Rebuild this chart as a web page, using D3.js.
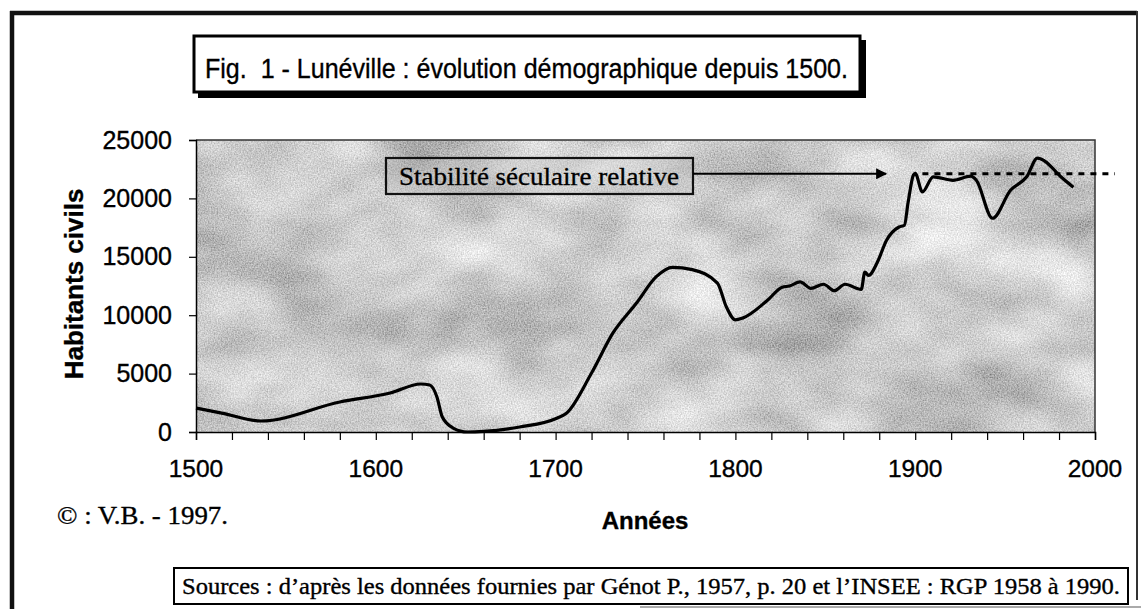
<!DOCTYPE html>
<html>
<head>
<meta charset="utf-8">
<script src="https://cdn.jsdelivr.net/npm/d3@7"></script>
<style>
  html, body { margin: 0; padding: 0; background: #fff; }
  svg { display: block; }
  text { stroke: #000; stroke-width: 0.35px; fill: #000; }
</style>
</head>
<body>
<div id="chart"></div>
<script>
// Population of Lunéville (habitants civils)
const years = [1500, 1515, 1536, 1580, 1608, 1625, 1630, 1634, 1637, 1643, 1651, 1660, 1680,
  1701, 1706, 1720, 1732, 1745, 1756, 1765, 1776, 1790, 1795, 1800, 1804, 1818, 1826, 1830, 1836,
  1842, 1849, 1855, 1861, 1870, 1872, 1874, 1879, 1884, 1891, 1894, 1896, 1899, 1900,
  1904, 1910, 1921, 1931, 1934, 1943, 1953, 1962, 1968, 1972, 1981, 1988];
const population = [2050, 1600, 940, 2570, 3340, 4110, 4020, 3000, 1280, 340, 0, 50, 430,
  1200, 1600, 5050, 8500, 11040, 13300, 14100, 13900, 12750, 10700, 9600, 9750, 11300, 12400, 12500, 12850,
  12300, 12650, 12100, 12650, 12200, 13700, 13400, 14550, 16400, 17550, 17700, 19600, 22000, 22150,
  20550, 21850, 21550, 21900, 21550, 18300, 20700, 21850, 23450, 23200, 21850, 20950];

const xTicks = [1500, 1600, 1700, 1800, 1900, 2000];
const xMinorTicks = d3.range(1500, 2001, 20);
const yTicks = [0, 5000, 10000, 15000, 20000, 25000];
const stableLevel = 22100;       // "stabilité séculaire relative" dashed level
const stableFrom = 1904;

const titleText = "Fig.  1 - Lunéville : évolution démographique depuis 1500.";
const noteText = "Stabilité séculaire relative";
const yLabel = "Habitants civils";
const xLabel = "Années";
const creditText = "© : V.B. - 1997.";
const sourceText = "Sources : d’après les données fournies par Génot P., 1957, p. 20 et l’INSEE : RGP 1958 à 1990.";

const SANS = "Arial, 'Liberation Sans', sans-serif";
const SERIF = "'Times New Roman', 'Liberation Serif', serif";

const W = 1141, H = 609;
const x = d3.scaleLinear().domain([1500, 2000]).range([196, 1095]);
const y = d3.scaleLinear().domain([0, 25000]).range([432, 140]);

const svg = d3.select("#chart").append("svg").attr("width", W).attr("height", H);
const defs = svg.append("defs");

// mottled halftone-like grey texture for the plot area
const tex = defs.append("filter").attr("id", "tex")
  .attr("x", 0).attr("y", 0).attr("width", 1).attr("height", 1);
tex.append("feTurbulence").attr("type", "fractalNoise")
  .attr("baseFrequency", "0.008 0.014").attr("numOctaves", 3).attr("seed", 7).attr("result", "n1");
tex.append("feColorMatrix").attr("in", "n1").attr("type", "matrix")
  .attr("values", "0.8 0 0 0 0.22  0.8 0 0 0 0.22  0.8 0 0 0 0.22  0 0 0 0 1").attr("result", "base");
tex.append("feTurbulence").attr("type", "fractalNoise")
  .attr("baseFrequency", "0.7").attr("numOctaves", 2).attr("seed", 3).attr("result", "n2");
tex.append("feColorMatrix").attr("in", "n2").attr("type", "matrix")
  .attr("values", "1 0 0 0 0  1 0 0 0 0  1 0 0 0 0  0 0 0 0 1").attr("result", "fine");
tex.append("feComposite").attr("in", "base").attr("in2", "fine")
  .attr("operator", "arithmetic").attr("k1", 0).attr("k2", 1).attr("k3", 0.6).attr("k4", -0.32);

const marker = defs.append("marker").attr("id", "arrow")
  .attr("viewBox", "0 0 10 10").attr("refX", 9).attr("refY", 5)
  .attr("markerWidth", 12).attr("markerHeight", 11).attr("markerUnits", "userSpaceOnUse")
  .attr("orient", "auto");
marker.append("path").attr("d", "M0,0L10,5L0,10z").attr("fill", "#000");

// outer frame
svg.append("line").attr("x1", 10).attr("x2", 1137).attr("y1", 13).attr("y2", 13)
  .attr("stroke", "#111").attr("stroke-width", 4.5);
svg.append("line").attr("x1", 12).attr("x2", 12).attr("y1", 11).attr("y2", H)
  .attr("stroke", "#111").attr("stroke-width", 4.5);
svg.append("line").attr("x1", 1137).attr("x2", 1137).attr("y1", 11).attr("y2", 600)
  .attr("stroke", "#333").attr("stroke-width", 2);
svg.append("line").attr("x1", 640).attr("x2", W).attr("y1", 607).attr("y2", 607)
  .attr("stroke", "#aaa").attr("stroke-width", 2);

// title box with drop shadow
svg.append("rect").attr("x", 198).attr("y", 40).attr("width", 668).attr("height", 58).attr("fill", "#000");
svg.append("rect").attr("x", 194).attr("y", 36).attr("width", 666).attr("height", 56)
  .attr("fill", "#fff").attr("stroke", "#000").attr("stroke-width", 3);
svg.append("text").attr("x", 205).attr("y", 78)
  .attr("font-family", SANS).attr("font-size", 28)
  .attr("textLength", 643).attr("lengthAdjust", "spacingAndGlyphs")
  .style("white-space", "pre").text(titleText);

// plot background
svg.append("rect").attr("x", x(1500)).attr("y", y(25000))
  .attr("width", x(2000) - x(1500)).attr("height", y(0) - y(25000))
  .attr("fill", "#a0a0a0").attr("filter", "url(#tex)");
svg.append("path")
  .attr("d", `M${x(1500)},${y(25000)}H${x(2000)}V${y(0)}`)
  .attr("fill", "none").attr("stroke", "#333").attr("stroke-width", 1.5);

// y axis
const yAxis = svg.append("g").attr("transform", `translate(${x(1500)},0)`)
  .call(d3.axisLeft(y).tickValues(yTicks).tickSize(7).tickPadding(17).tickFormat(d3.format("d")));
yAxis.select(".domain").attr("stroke", "#000").attr("stroke-width", 1.5);
yAxis.selectAll(".tick line").attr("stroke", "#000").attr("stroke-width", 1.2);
yAxis.selectAll("text").attr("font-size", 25).attr("font-family", SANS);

// x axis: minor ticks every 20 years, labels every century
const xAxis = svg.append("g").attr("transform", `translate(0,${y(0)})`)
  .call(d3.axisBottom(x).tickValues(xMinorTicks).tickSize(8).tickFormat(""));
xAxis.select(".domain").attr("stroke", "#000").attr("stroke-width", 1.5);
xAxis.selectAll(".tick line").attr("stroke", "#000").attr("stroke-width", 1.2);
svg.append("g").selectAll("text").data(xTicks).join("text")
  .attr("x", d => x(d)).attr("y", 477)
  .attr("text-anchor", "middle").attr("font-family", SANS).attr("font-size", 24.5)
  .text(d => d);

// axis titles
svg.append("text")
  .attr("transform", "translate(83,284) rotate(-90)")
  .attr("text-anchor", "middle").attr("font-family", SANS).attr("font-size", 26).attr("font-weight", "bold")
  .text(yLabel);
svg.append("text").attr("x", 645).attr("y", 529)
  .attr("text-anchor", "middle").attr("font-family", SANS).attr("font-size", 24).attr("font-weight", "bold")
  .text(xLabel);

// population curve
const line = d3.line().x(d => x(d[0])).y(d => y(d[1])).curve(d3.curveMonotoneX);
svg.append("path").datum(d3.zip(years, population))
  .attr("d", line).attr("fill", "none").attr("stroke", "#000")
  .attr("stroke-width", 3.2).attr("stroke-linejoin", "round");

// stability level (dashed) and annotation
svg.append("line").attr("x1", x(stableFrom)).attr("x2", 1115)
  .attr("y1", y(stableLevel)).attr("y2", y(stableLevel))
  .attr("stroke", "#000").attr("stroke-width", 3).attr("stroke-dasharray", "6,6");
svg.append("rect").attr("x", 386).attr("y", 158).attr("width", 307).attr("height", 36)
  .attr("fill", "#b8b8b8").attr("fill-opacity", 0.3).attr("stroke", "#111").attr("stroke-width", 2.2);
svg.append("text").attr("x", 539).attr("y", 185)
  .attr("text-anchor", "middle").attr("font-family", SERIF).attr("font-size", 26)
  .attr("textLength", 280).attr("lengthAdjust", "spacingAndGlyphs").text(noteText);
svg.append("line").attr("x1", 693).attr("x2", 886)
  .attr("y1", y(stableLevel)).attr("y2", y(stableLevel))
  .attr("stroke", "#000").attr("stroke-width", 2).attr("marker-end", "url(#arrow)");

// credit and sources
svg.append("text").attr("x", 57).attr("y", 524)
  .attr("font-family", SERIF).attr("font-size", 26)
  .attr("textLength", 171).attr("lengthAdjust", "spacingAndGlyphs").text(creditText);
svg.append("rect").attr("x", 174).attr("y", 568).attr("width", 954).attr("height", 36)
  .attr("fill", "#fff").attr("stroke", "#000").attr("stroke-width", 2);
svg.append("text").attr("x", 651).attr("y", 594)
  .attr("text-anchor", "middle").attr("font-family", SERIF).attr("font-size", 24)
  .attr("textLength", 938).attr("lengthAdjust", "spacingAndGlyphs").text(sourceText);
</script>
</body>
</html>
